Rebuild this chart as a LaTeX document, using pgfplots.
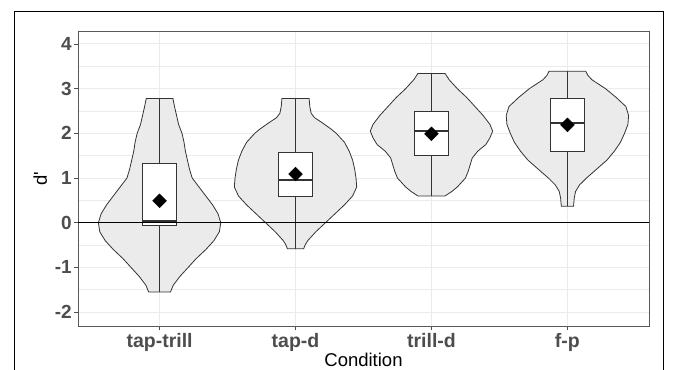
\documentclass[border=0pt]{standalone}
\usepackage{fontspec}
\setmainfont{Liberation Sans}
\usepackage{pgfplots}
\pgfplotsset{compat=1.18}
\definecolor{gridc}{HTML}{EBEBEB}
\definecolor{ticklab}{HTML}{4D4D4D}
\definecolor{vfill}{HTML}{EBEBEB}
\definecolor{vline}{HTML}{333333}
\definecolor{panelc}{HTML}{595959}
\begin{document}
\begin{tikzpicture}
\useasboundingbox (0,0) rectangle (673pt,370pt);
\draw[black, line width=1pt] (14pt,-5pt) -- (14pt,358pt) -- (663pt,358pt) -- (663pt,-5pt);
\begin{axis}[
  at={(78pt,44pt)}, anchor=south west,
  scale only axis, width=571pt, height=295pt,
  xmin=0.4, xmax=4.6, ymin=-2.31, ymax=4.29,
  xtick={1,2,3,4}, xticklabels={tap-trill,tap-d,trill-d,f-p},
  ytick={-2,-1,0,1,2,3,4}, yticklabels={-2,-1,0,1,2,3,4},
  minor ytick={-1.5,-0.5,0.5,1.5,2.5,3.5},
  grid=both,
  major grid style={gridc, line width=1pt},
  minor grid style={gridc, line width=0.6pt},
  axis line style={panelc, line width=0.9pt},
  tick align=outside, major tick length=4pt, minor tick length=0pt,
  tick style={ticklab, line width=0.8pt},
  xtick pos=left, ytick pos=left,
  ticklabel style={text=ticklab},
  xticklabel style={font=\fontsize{19.5}{21}\selectfont\bfseries, anchor=base, yshift=-17pt},
  yticklabel style={font=\fontsize{19}{21}\selectfont\bfseries, inner sep=0pt, xshift=-2pt},
  xlabel={Condition}, ylabel={d\textquotesingle},
  label style={font=\fontsize{18.5}{20}\selectfont, text=black},
  xlabel style={at={(axis description cs:0.5,-0.1356)}, anchor=base},
  ylabel style={at={(axis description cs:-0.0543,0.5)}, anchor=base},
]
% violins
\addplot[draw=vline, fill=vfill, line width=0.8pt] coordinates {
(1.098,2.78) (1.11,2.6) (1.125,2.4) (1.14,2.2) (1.165,2.0) (1.18,1.8) (1.19,1.6) (1.205,1.4) (1.22,1.2) (1.24,1.0) (1.29,0.8) (1.34,0.6) (1.39,0.4) (1.43,0.2) (1.45,0.0) (1.44,-0.2) (1.40,-0.4) (1.34,-0.6) (1.27,-0.8) (1.21,-1.0) (1.15,-1.2) (1.10,-1.4) (1.08,-1.55)
(0.92,-1.55) (0.90,-1.4) (0.85,-1.2) (0.79,-1.0) (0.73,-0.8) (0.66,-0.6) (0.60,-0.4) (0.56,-0.2) (0.55,0.0) (0.57,0.2) (0.61,0.4) (0.66,0.6) (0.71,0.8) (0.76,1.0) (0.78,1.2) (0.795,1.4) (0.81,1.6) (0.82,1.8) (0.835,2.0) (0.86,2.2) (0.875,2.4) (0.89,2.6) (0.902,2.78)
} -- cycle;
\addplot[draw=vline, fill=vfill, line width=0.8pt] coordinates {
(2.10,2.78) (2.105,2.6) (2.115,2.45) (2.14,2.35) (2.19,2.25) (2.26,2.1) (2.30,2.0) (2.36,1.8) (2.395,1.6) (2.42,1.4) (2.435,1.2) (2.445,1.0) (2.45,0.8) (2.42,0.6) (2.36,0.4) (2.29,0.2) (2.22,0.0) (2.15,-0.2) (2.09,-0.4) (2.07,-0.5) (2.06,-0.58)
(1.94,-0.58) (1.93,-0.5) (1.91,-0.4) (1.85,-0.2) (1.78,0.0) (1.71,0.2) (1.64,0.4) (1.58,0.6) (1.55,0.8) (1.555,1.0) (1.565,1.2) (1.58,1.4) (1.605,1.6) (1.64,1.8) (1.70,2.0) (1.74,2.1) (1.81,2.25) (1.86,2.35) (1.885,2.45) (1.895,2.6) (1.90,2.78)
} -- cycle;
\addplot[draw=vline, fill=vfill, line width=0.8pt] coordinates {
(3.10,3.34) (3.13,3.2) (3.19,3.0) (3.26,2.8) (3.32,2.6) (3.38,2.4) (3.43,2.2) (3.45,2.05) (3.43,1.9) (3.40,1.75) (3.34,1.6) (3.30,1.45) (3.285,1.3) (3.27,1.15) (3.25,1.0) (3.22,0.9) (3.19,0.8) (3.15,0.7) (3.10,0.6)
(2.90,0.6) (2.85,0.7) (2.81,0.8) (2.78,0.9) (2.75,1.0) (2.73,1.15) (2.715,1.3) (2.70,1.45) (2.66,1.6) (2.60,1.75) (2.57,1.9) (2.55,2.05) (2.57,2.2) (2.62,2.4) (2.68,2.6) (2.74,2.8) (2.81,3.0) (2.87,3.2) (2.90,3.34)
} -- cycle;
\addplot[draw=vline, fill=vfill, line width=0.8pt] coordinates {
(4.135,3.39) (4.15,3.3) (4.18,3.2) (4.28,3.0) (4.36,2.8) (4.43,2.6) (4.45,2.4) (4.445,2.2) (4.42,2.0) (4.39,1.8) (4.345,1.6) (4.29,1.4) (4.215,1.2) (4.14,1.0) (4.09,0.85) (4.06,0.7) (4.05,0.55) (4.045,0.37)
(3.955,0.37) (3.95,0.55) (3.94,0.7) (3.91,0.85) (3.86,1.0) (3.785,1.2) (3.71,1.4) (3.655,1.6) (3.61,1.8) (3.58,2.0) (3.555,2.2) (3.55,2.4) (3.57,2.6) (3.64,2.8) (3.72,3.0) (3.82,3.2) (3.85,3.3) (3.865,3.39)
} -- cycle;
% whiskers
\addplot[vline, line width=0.8pt] coordinates {(1,-1.55) (1,2.78)};
\addplot[vline, line width=0.8pt] coordinates {(2,-0.58) (2,2.78)};
\addplot[vline, line width=0.8pt] coordinates {(3,0.6) (3,3.34)};
\addplot[vline, line width=0.8pt] coordinates {(4,0.37) (4,3.39)};
% boxes
\addplot[draw=vline, fill=white, line width=0.8pt] coordinates {(0.875,-0.05) (1.125,-0.05) (1.125,1.33) (0.875,1.33)} -- cycle;
\addplot[draw=vline, fill=white, line width=0.8pt] coordinates {(1.875,0.58) (2.125,0.58) (2.125,1.58) (1.875,1.58)} -- cycle;
\addplot[draw=vline, fill=white, line width=0.8pt] coordinates {(2.875,1.5) (3.125,1.5) (3.125,2.5) (2.875,2.5)} -- cycle;
\addplot[draw=vline, fill=white, line width=0.8pt] coordinates {(3.875,1.59) (4.125,1.59) (4.125,2.79) (3.875,2.79)} -- cycle;
% medians
\addplot[vline, line width=2pt] coordinates {(0.875,0.05) (1.125,0.05)};
\addplot[vline, line width=2pt] coordinates {(1.875,0.95) (2.125,0.95)};
\addplot[vline, line width=2pt] coordinates {(2.875,2.06) (3.125,2.06)};
\addplot[vline, line width=2pt] coordinates {(3.875,2.24) (4.125,2.24)};
% means
\addplot[only marks, mark=square*, mark size=4.9pt, mark options={rotate=45, fill=black, draw=black}] coordinates {(1,0.49) (2,1.09) (3,1.99) (4,2.19)};
% zero line
\addplot[black, line width=0.9pt] coordinates {(0.4,0) (4.6,0)};
\end{axis}
\end{tikzpicture}
\end{document}
